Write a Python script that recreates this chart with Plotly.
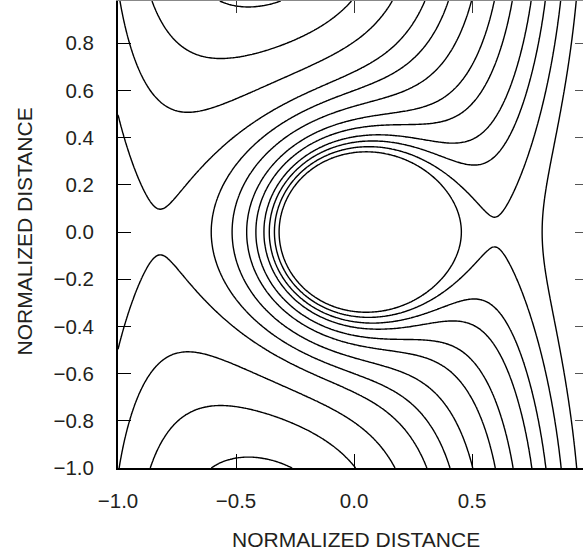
import numpy as np
import plotly.graph_objects as go

# ---- chart data -------------------------------------------------------------
# Parameters of the plotted field (core peak, right ramp, left rise, upper/lower dips)
core_x, core_ey = 0.01863, 0.9769
ramp_G, ramp_lambda = 2.936, 0.7631
vert_c = 0.2762
left_H, left_mu = 1.362, 0.1906
dip_d, dip_x, dip_y, dip_sigma = 3.647, -0.02075, 1.138, 0.7303

# Contour levels (innermost ring first, the small top/bottom loops last)
contour_levels = [8.836, 7.849, 6.941, 6.163, 5.189, 4.345, 3.369, 2.498, 1.727, 0.8389, 0.0158, -0.7175]

x_tickvals = [-1.0, -0.5, 0.0, 0.5]
x_ticktext = ['−1.0', '−0.5', '0.0', '0.5']
y_tickvals = [-1.0, -0.8, -0.6, -0.4, -0.2, 0.0, 0.2, 0.4, 0.6, 0.8]
y_ticktext = ['−1.0', '−0.8', '−0.6', '−0.4', '−0.2', '0.0', '0.2', '0.4', '0.6', '0.8']
axis_title = 'NORMALIZED DISTANCE'
x_range = [-1.0, 0.97]
y_range = [-1.0, 0.979]


def field(x, y):
    core = 1.0 / ((x - core_x) ** 2 + (y / core_ey) ** 2 + 1e-9)
    ramp = ramp_G * np.exp(x / ramp_lambda)
    left = left_H * np.exp(-(x + 1) / left_mu)
    s2 = 2 * dip_sigma ** 2
    dips = dip_d * (np.exp(-((x - dip_x) ** 2 + (y - dip_y) ** 2) / s2) +
                    np.exp(-((x - dip_x) ** 2 + (y + dip_y) ** 2) / s2))
    return core + ramp - vert_c * y ** 2 + left - dips


xs = np.linspace(x_range[0], x_range[1], 320)
ys = np.linspace(y_range[0], y_range[1], 320)
X, Y = np.meshgrid(xs, ys)
F = field(X, Y)

# map the (unevenly spaced) levels onto 0..N-1 so one contour trace draws them all
lv = np.sort(np.array(contour_levels))
n = len(lv)
idx = np.arange(n, dtype=float)
z = np.interp(F, lv, idx)
lo = F < lv[0]
hi = F > lv[-1]
z[lo] = (F[lo] - lv[0]) / (lv[1] - lv[0])
z[hi] = (n - 1) + (F[hi] - lv[-1]) / (lv[-1] - lv[-2])
z = np.round(np.clip(z, -5, n + 4), 4)

fig = go.Figure()
fig.add_trace(go.Contour(
    x=xs, y=ys, z=z,
    contours=dict(start=0, end=n - 1, size=1, coloring='none'),
    line=dict(color='black', width=1.4, smoothing=1),
    showscale=False, hoverinfo='skip'))
# invisible trace so the mirrored top/right tick axes are drawn
fig.add_trace(go.Scatter(x=[None], y=[None], xaxis='x2', yaxis='y2', showlegend=False, hoverinfo='skip'))

fnt = dict(family='Liberation Sans, Arial, sans-serif', size=20.5, color='#231f20')
fig.update_layout(
    width=583, height=556, margin=dict(l=118, r=0, t=1, b=88),
    plot_bgcolor='white', paper_bgcolor='white', showlegend=False,
    xaxis=dict(range=x_range, tickvals=x_tickvals, ticktext=x_ticktext,
               ticks='inside', ticklen=14, tickcolor='black', showline=True, linecolor='black', linewidth=2,
               showgrid=False, zeroline=False, tickfont=fnt, ticklabelstandoff=13),
    yaxis=dict(range=y_range, tickvals=y_tickvals, ticktext=y_ticktext,
               ticks='inside', ticklen=13, tickcolor='black', showline=True, linecolor='black', linewidth=2,
               showgrid=False, zeroline=False, tickfont=fnt, ticklabelstandoff=18),
    xaxis2=dict(overlaying='x', side='top', anchor='y', range=x_range, tickvals=x_tickvals[1:],
                ticks='inside', ticklen=12, tickcolor='#333', showline=True, linecolor='#888', linewidth=1,
                showticklabels=False, showgrid=False, zeroline=False),
    yaxis2=dict(overlaying='y', side='right', anchor='x', range=y_range, tickvals=y_tickvals[1:],
                ticks='inside', ticklen=8, tickcolor='#555', showline=False, showticklabels=False,
                showgrid=False, zeroline=False),
)
tf = dict(family='Liberation Sans, Arial, sans-serif', size=21, color='#231f20')
fig.add_annotation(text=axis_title, x=(356 - 118) / 465, y=(468.5 - 539.5) / 467, xref='paper', yref='paper',
                   showarrow=False, xanchor='center', yanchor='middle', font=tf)
fig.add_annotation(text=axis_title, x=(24 - 118) / 465, y=(468.5 - 232) / 467, xref='paper', yref='paper',
                   showarrow=False, xanchor='center', yanchor='middle', textangle=-90, font=tf)
fig.write_html('out.html')
